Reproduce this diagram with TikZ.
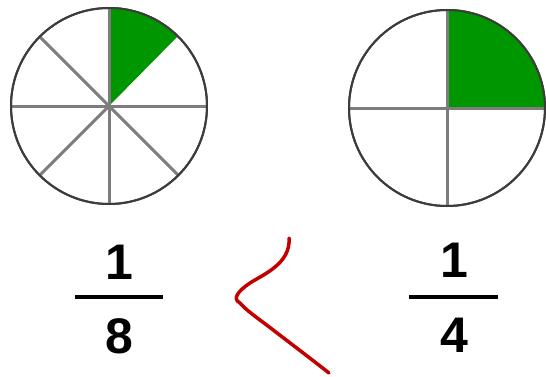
\documentclass[tikz,border=0pt]{standalone}
\usepackage{fontspec}
\setmainfont{Liberation Sans}
\definecolor{piegreen}{RGB}{0,150,0}
\definecolor{rimgray}{RGB}{60,60,60}
\definecolor{spokegray}{RGB}{125,125,125}
\definecolor{inkred}{RGB}{195,0,0}
\begin{document}
\begin{tikzpicture}[
	x=1pt, y=1pt,
	% Define the styles for the pies and the fractions
	pie/.style={circle, draw=rimgray, line width=2pt, minimum size=196pt, inner sep=0pt},
	spoke/.style={draw=spokegray, line width=3pt},
	digit/.style={inner sep=0pt, font=\fontsize{50}{50}\selectfont\bfseries},
	fracbar/.style={line width=4pt}
	]
	\useasboundingbox (0,0) rectangle (546,376);
	
	% --- PIES ---
	% Format: \node[pie] (internal_name) at (x,y) {};
	
	\node[pie] (pie8) at (109,270) {};
	\node[pie] (pie4) at (447,268) {};
	
	% shaded parts
	\fill[piegreen] (pie8.center) -- (pie8.90) arc[start angle=90, end angle=45, radius=98] -- cycle;
	\fill[piegreen] (pie4.center) -- (pie4.90) arc[start angle=90, end angle=0, radius=98] -- cycle;
	
	% spokes
	\foreach \a in {0,90,135,180,225,270,315}
		\draw[spoke] (pie8.center) -- (pie8.\a);
	\foreach \a in {0,90,180,270}
		\draw[spoke] (pie4.center) -- (pie4.\a);
	
	% rims again on top
	\node[pie] at (pie8.center) {};
	\node[pie] at (pie4.center) {};
	
	% --- FRACTIONS ---
	\node[digit] (num8) at (119,114) {1};
	\node[digit] (den8) at (119,40) {8};
	\draw[fracbar] (75,79) -- (163,79);
	
	\node[digit] (num4) at (454,116) {1};
	\node[digit] (den4) at (454,41) {4};
	\draw[fracbar] (409,79) -- (498,79);
	
	% --- LESS-THAN SIGN ---
	\coordinate (top) at (289,138);
	\coordinate (tip) at (240,73);
	\coordinate (bottom) at (329,3);
	\draw[inkred, line width=3.5pt, line cap=round]
		(top) .. controls (291,112) and (262,101) .. (250,93)
		.. controls (238,85) and (232,77) .. (tip)
		.. controls (246,66) and (256,59) .. (268,50)
		.. controls (290,33) and (310,18) .. (bottom);
	
\end{tikzpicture}
\end{document}
